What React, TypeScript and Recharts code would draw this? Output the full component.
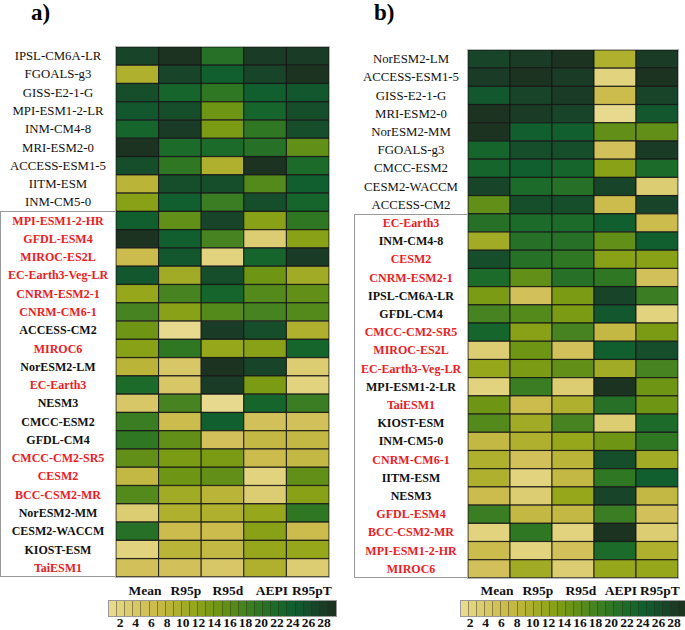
import React from "react";
import { BarChart, Bar, XAxis, YAxis, Cell } from "recharts";

// rank colour scale 1..28 (pale yellow -> dark green)
const PALETTE = [
  "#E7D98D", "#E2D37F", "#DDCD72", "#D8C766", "#D2C15A", "#CBBC4D", "#C3B843", "#BAB439",
  "#AEB02E", "#A2AB25", "#96A71C", "#89A117", "#7C9B14", "#6F9514", "#618F18", "#54891C",
  "#478320", "#3B7D22", "#307724", "#267127", "#1D6B2A", "#15652D", "#115F2E", "#13572E",
  "#164E2C", "#18452A", "#1A3C26", "#1C3322",
];

const METRICS = ["Mean", "R95p", "R95d", "AEPI", "R95pT"];
const LEGEND_TICKS = ["2", "4", "6", "8", "10", "12", "14", "16", "18", "20", "22", "24", "26", "28"];

// panel a
const modelsA = [
  "IPSL-CM6A-LR", "FGOALS-g3", "GISS-E2-1-G", "MPI-ESM1-2-LR", "INM-CM4-8", "MRI-ESM2-0",
  "ACCESS-ESM1-5", "IITM-ESM", "INM-CM5-0", "MPI-ESM1-2-HR", "GFDL-ESM4", "MIROC-ES2L",
  "EC-Earth3-Veg-LR", "CNRM-ESM2-1", "CNRM-CM6-1", "ACCESS-CM2", "MIROC6", "NorESM2-LM",
  "EC-Earth3", "NESM3", "CMCC-ESM2", "GFDL-CM4", "CMCC-CM2-SR5", "CESM2", "BCC-CSM2-MR",
  "NorESM2-MM", "CESM2-WACCM", "KIOST-ESM", "TaiESM1",
];
const meanA = [26, 9, 25, 24, 22, 28, 25, 8, 12, 23, 28, 6, 24, 11, 17, 14, 12, 8, 21, 4, 18, 19, 15, 7, 16, 3, 20, 2, 5];
const r95pA = [28, 26, 22, 25, 27, 21, 19, 25, 23, 15, 23, 24, 10, 17, 12, 1, 19, 4, 4, 17, 6, 15, 13, 14, 10, 9, 6, 8, 5];
const r95dA = [20, 23, 19, 14, 13, 21, 9, 25, 18, 26, 17, 2, 25, 22, 16, 27, 11, 28, 27, 1, 23, 5, 13, 15, 8, 9, 6, 7, 4];
const aepiA = [27, 26, 23, 22, 19, 20, 28, 16, 25, 12, 3, 22, 14, 16, 17, 25, 12, 26, 13, 22, 5, 7, 6, 2, 3, 11, 12, 11, 9];
const r95ptA = [27, 28, 24, 25, 25, 15, 21, 23, 22, 19, 12, 27, 10, 15, 16, 9, 22, 3, 2, 18, 5, 7, 7, 15, 12, 19, 6, 11, 3];
const redA = [
  "MPI-ESM1-2-HR", "GFDL-ESM4", "MIROC-ES2L", "EC-Earth3-Veg-LR", "CNRM-ESM2-1", "CNRM-CM6-1",
  "MIROC6", "EC-Earth3", "CMCC-CM2-SR5", "CESM2", "BCC-CSM2-MR", "TaiESM1",
];

// panel b
const modelsB = [
  "NorESM2-LM", "ACCESS-ESM1-5", "GISS-E2-1-G", "MRI-ESM2-0", "NorESM2-MM", "FGOALS-g3",
  "CMCC-ESM2", "CESM2-WACCM", "ACCESS-CM2", "EC-Earth3", "INM-CM4-8", "CESM2", "CNRM-ESM2-1",
  "IPSL-CM6A-LR", "GFDL-CM4", "CMCC-CM2-SR5", "MIROC-ES2L", "EC-Earth3-Veg-LR", "MPI-ESM1-2-LR",
  "TaiESM1", "KIOST-ESM", "INM-CM5-0", "CNRM-CM6-1", "IITM-ESM", "NESM3", "GFDL-ESM4",
  "BCC-CSM2-MR", "MPI-ESM1-2-HR", "MIROC6",
];
const meanB = [26, 27, 24, 28, 28, 22, 22, 26, 15, 20, 10, 25, 21, 13, 17, 22, 3, 11, 2, 14, 16, 7, 9, 9, 6, 18, 2, 6, 5];
const r95pB = [27, 28, 26, 27, 23, 25, 23, 21, 25, 21, 20, 20, 15, 5, 16, 12, 14, 13, 18, 6, 10, 9, 5, 2, 3, 7, 19, 2, 10];
const r95dB = [28, 27, 27, 26, 23, 25, 22, 20, 25, 21, 20, 19, 20, 13, 13, 17, 5, 15, 3, 9, 17, 11, 8, 7, 11, 7, 2, 5, 3];
const aepiB = [9, 2, 6, 1, 15, 5, 12, 26, 6, 23, 15, 12, 19, 26, 24, 7, 23, 10, 28, 20, 3, 14, 25, 19, 26, 18, 28, 21, 11];
const r95ptB = [27, 28, 26, 24, 15, 27, 21, 3, 26, 6, 23, 12, 5, 18, 2, 13, 25, 17, 14, 14, 21, 19, 10, 23, 7, 5, 3, 9, 11];
const redB = [
  "EC-Earth3", "CESM2", "CNRM-ESM2-1", "CMCC-CM2-SR5", "MIROC-ES2L", "EC-Earth3-Veg-LR",
  "TaiESM1", "CNRM-CM6-1", "GFDL-ESM4", "BCC-CSM2-MR", "MPI-ESM1-2-HR", "MIROC6",
];

const SERIF = "'Liberation Serif', 'Times New Roman', serif";

function buildRows(models: string[], cols: number[][]) {
  return models.map((m, i) => {
    const row: any = { model: m, ranks: cols.map((c) => c[i]) };
    METRICS.forEach((k) => (row[k] = 1));
    return row;
  });
}

type PanelProps = {
  left: number;
  width: number;
  top: number;
  bottom: number;
  right: number;
  axisW: number;
  labelX: number;
  models: string[];
  cols: number[][];
  red: string[];
};

function Heatmap({ left, width, top, bottom, right, axisW, labelX, models, cols, red }: PanelProps) {
  const height = 590;
  const rows = buildRows(models, cols);
  const rowH = (height - top - bottom) / models.length;
  const boxTop = top + 9 * rowH;
  return (
    <div style={{ position: "absolute", left, top: 0, width, height }}>
      <BarChart
        width={width}
        height={height}
        data={rows}
        layout="vertical"
        barCategoryGap={0}
        barGap={0}
        margin={{ top, right, bottom, left: 0 }}
      >
        <XAxis type="number" domain={[0, 5]} hide />
        <YAxis
          type="category"
          dataKey="model"
          width={axisW}
          interval={0}
          tickLine={false}
          axisLine={false}
          tick={(p: any) => {
            const name = p.payload.value as string;
            const idx = p.index as number;
            const bold = idx >= 9;
            return (
              <text
                x={labelX}
                y={p.y}
                textAnchor="middle"
                dominantBaseline="central"
                fontFamily={SERIF}
                fontSize={bold ? 12 : 12.8}
                fontWeight={bold ? 700 : 400}
                fill={red.includes(name) ? "#EC1C24" : "#111"}
              >
                {name}
              </text>
            );
          }}
        />
        {METRICS.map((k, j) => (
          <Bar key={k} dataKey={k} stackId="s" isAnimationActive={false} stroke="#141414" strokeWidth={0.9}>
            {rows.map((r, i) => (
              <Cell key={i} fill={PALETTE[r.ranks[j] - 1]} />
            ))}
          </Bar>
        ))}
      </BarChart>
      <div
        style={{
          position: "absolute",
          left: labelX * 2 - axisW,
          top: boxTop,
          width: 2 * (axisW - labelX),
          height: height - bottom - boxTop,
          border: "1px solid #9a9a9a",
          borderRight: "none",
          boxSizing: "border-box",
          pointerEvents: "none",
        }}
      />
      <div
        style={{
          position: "absolute",
          left: axisW - 1,
          top: top - 1,
          width: width - axisW - right + 2,
          height: height - top - bottom + 2,
          border: "1px solid #b5b5b5",
          boxSizing: "border-box",
          pointerEvents: "none",
        }}
      />
    </div>
  );
}

function ColorLegend({
  left,
  barW,
  labelCenters,
  tickStart,
  tickStep,
}: {
  left: number;
  barW: number;
  labelCenters: number[];
  tickStart: number;
  tickStep: number;
}) {
  const sw = barW / PALETTE.length;
  const bold = { fontFamily: SERIF, fontWeight: 700, fontSize: 13.5, color: "#111", lineHeight: "15px" } as const;
  return (
    <>
      {METRICS.map((m, i) => (
        <div
          key={m}
          style={{ ...bold, position: "absolute", left: labelCenters[i] - 30, width: 60, top: 583, textAlign: "center" }}
        >
          {m}
        </div>
      ))}
      <div style={{ position: "absolute", left, top: 600, height: 17, width: barW, display: "flex", border: "1px solid #999", boxSizing: "border-box" }}>
        {PALETTE.map((c, i) => (
          <div
            key={i}
            style={{ width: sw, height: "100%", background: c, borderRight: "1px solid rgba(40,40,20,0.45)", boxSizing: "border-box" }}
          />
        ))}
      </div>
      {LEGEND_TICKS.map((t, i) => (
        <div
          key={t}
          style={{ ...bold, position: "absolute", left: tickStart + i * tickStep - 10, width: 20, top: 615, textAlign: "center" }}
        >
          {t}
        </div>
      ))}
    </>
  );
}

export default function App() {
  const title = { position: "absolute", top: 1, fontFamily: SERIF, fontWeight: 700, fontSize: 23, lineHeight: "24px" } as const;
  return (
    <div
      style={{
        position: "absolute",
        left: 0,
        top: 0,
        width: 685,
        height: 630,
        overflow: "hidden",
        background: "#fff",
      }}
    >
      <div style={{ ...title, left: 31 }}>a)</div>
      <div style={{ ...title, left: 374 }}>b)</div>
      <Heatmap
        left={0}
        width={340}
        top={47}
        bottom={13}
        right={11}
        axisW={116}
        labelX={58}
        models={modelsA}
        cols={[meanA, r95pA, r95dA, aepiA, r95ptA]}
        red={redA}
      />
      <Heatmap
        left={340}
        width={345}
        top={50}
        bottom={12}
        right={7}
        axisW={128}
        labelX={71}
        models={modelsB}
        cols={[meanB, r95pB, r95dB, aepiB, r95ptB]}
        red={redB}
      />
      <ColorLegend left={108} barW={229} labelCenters={[145, 186, 228, 272, 312]} tickStart={120} tickStep={15.7} />
      <ColorLegend left={460} barW={228} labelCenters={[497, 538, 581, 621, 660]} tickStart={470} tickStep={15.7} />
    </div>
  );
}
